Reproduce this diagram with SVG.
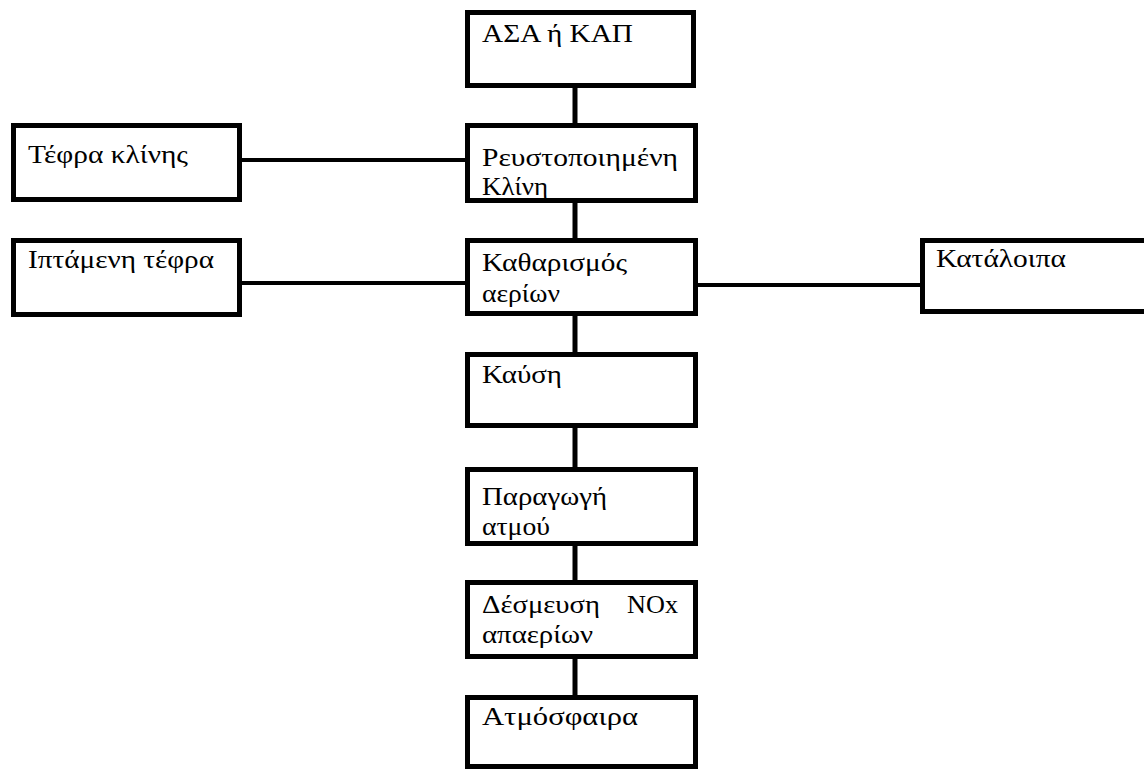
<svg xmlns="http://www.w3.org/2000/svg" width="1144" height="769" viewBox="0 0 1144 769">
<style>
.box{fill:#fff;stroke:#000;stroke-width:5}
.c{stroke:#000;stroke-width:5;fill:none}
.h{stroke-width:4}
text{font-family:"Liberation Serif","DejaVu Serif","Times New Roman",serif;font-size:25px;fill:#000}
</style>
<rect width="1144" height="769" fill="#fff"/>
<g id="connectors">
<line class="c" x1="575" y1="86" x2="575" y2="124"/>
<line class="c" x1="575" y1="201" x2="575" y2="239"/>
<line class="c" x1="575" y1="314" x2="575" y2="353"/>
<line class="c" x1="575" y1="426" x2="575" y2="468"/>
<line class="c" x1="575" y1="544" x2="575" y2="581"/>
<line class="c" x1="575" y1="657" x2="575" y2="696"/>
<line class="c h" x1="240" y1="160" x2="466" y2="160"/>
<line class="c h" x1="240" y1="283" x2="466" y2="283"/>
<line class="c h" x1="696" y1="285" x2="922" y2="285"/>
</g>
<g id="n1"><rect class="box" x="467.5" y="12.5" width="226" height="73"/><text x="482" y="42" textLength="151" lengthAdjust="spacingAndGlyphs">ΑΣΑ ή ΚΑΠ</text></g>
<g id="n2"><rect class="box" x="467.5" y="125.5" width="228" height="75"/><text x="482" y="166" textLength="196" lengthAdjust="spacingAndGlyphs">Ρευστοποιημένη</text><text x="482" y="195" textLength="66" lengthAdjust="spacingAndGlyphs">Κλίνη</text></g>
<g id="n3"><rect class="box" x="13.5" y="125.5" width="226" height="74"/><text x="28" y="163" textLength="160" lengthAdjust="spacingAndGlyphs">Τέφρα κλίνης</text></g>
<g id="n4"><rect class="box" x="13.5" y="240.5" width="226" height="74"/><text x="28" y="268" textLength="186" lengthAdjust="spacingAndGlyphs">Ιπτάμενη τέφρα</text></g>
<g id="n5"><rect class="box" x="467.5" y="240.5" width="228" height="73"/><text x="482" y="271" textLength="145" lengthAdjust="spacingAndGlyphs">Καθαρισμός</text><text x="482" y="302" textLength="78" lengthAdjust="spacingAndGlyphs">αερίων</text></g>
<g id="n6"><rect class="box" x="922.5" y="240.5" width="230" height="71"/><text x="936" y="267" textLength="130" lengthAdjust="spacingAndGlyphs">Κατάλοιπα</text></g>
<g id="n7"><rect class="box" x="467.5" y="354.5" width="228" height="71"/><text x="482" y="383" textLength="80" lengthAdjust="spacingAndGlyphs">Καύση</text></g>
<g id="n8"><rect class="box" x="467.5" y="469.5" width="228" height="74"/><text x="482" y="505" textLength="125" lengthAdjust="spacingAndGlyphs">Παραγωγή</text><text x="482" y="535" textLength="68" lengthAdjust="spacingAndGlyphs">ατμού</text></g>
<g id="n9"><rect class="box" x="467.5" y="582.5" width="228" height="74"/><text x="482" y="613" textLength="118" lengthAdjust="spacingAndGlyphs">Δέσμευση</text><text x="627" y="613" textLength="51" lengthAdjust="spacingAndGlyphs">NOx</text><text x="482" y="643" textLength="111" lengthAdjust="spacingAndGlyphs">απαερίων</text></g>
<g id="n10"><rect class="box" x="467.5" y="697.5" width="228" height="69"/><text x="482" y="725" textLength="156" lengthAdjust="spacingAndGlyphs">Ατμόσφαιρα</text></g>
</svg>
